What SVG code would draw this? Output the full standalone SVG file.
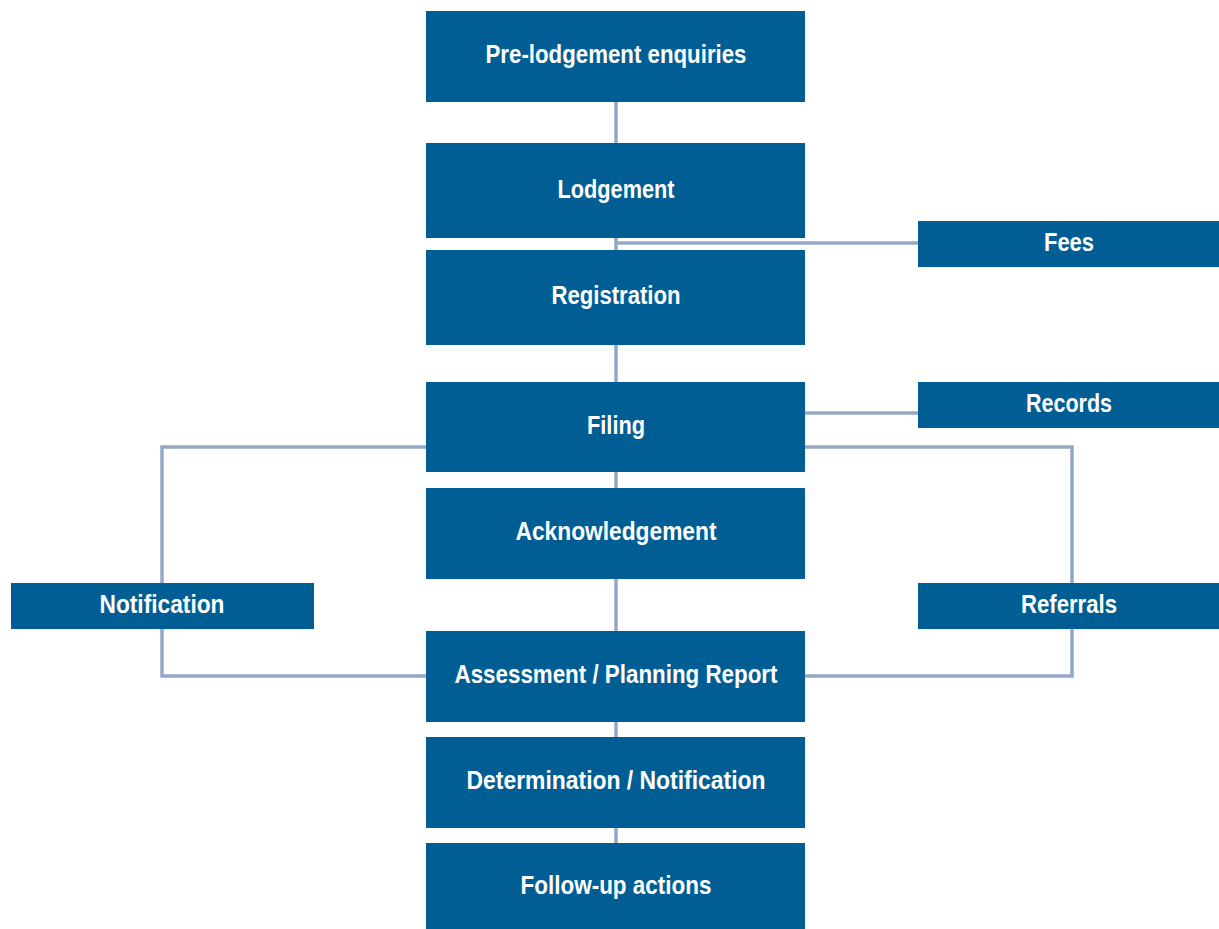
<svg xmlns="http://www.w3.org/2000/svg" width="1219" height="929" viewBox="0 0 1219 929">
<style>
.box{fill:#005E94}
.lbl{fill:#ffffff;font-family:"Liberation Sans Narrow","Liberation Sans",Arial,sans-serif;font-weight:bold;font-size:25px;text-anchor:middle}
.con{fill:none;stroke:#94A8C8;stroke-width:3.5}
</style>
<rect width="1219" height="929" fill="#ffffff"/>
<g id="connectors">
<line class="con" x1="616" y1="102" x2="616" y2="843"/>
<line class="con" x1="616" y1="243" x2="918" y2="243"/>
<line class="con" x1="805" y1="413" x2="918" y2="413"/>
<polyline class="con" points="805,447 1072,447 1072,676 805,676"/>
<polyline class="con" points="426,447 162,447 162,676 426,676"/>
</g>
<g id="n-prelodgement"><rect class="box" x="426" y="11" width="379" height="91"/><text class="lbl" x="616" y="63" textLength="261" lengthAdjust="spacingAndGlyphs">Pre-lodgement enquiries</text></g>
<g id="n-lodgement"><rect class="box" x="426" y="143" width="379" height="95"/><text class="lbl" x="616" y="198" textLength="117" lengthAdjust="spacingAndGlyphs">Lodgement</text></g>
<g id="n-registration"><rect class="box" x="426" y="250" width="379" height="95"/><text class="lbl" x="616" y="304" textLength="129" lengthAdjust="spacingAndGlyphs">Registration</text></g>
<g id="n-filing"><rect class="box" x="426" y="382" width="379" height="90"/><text class="lbl" x="616" y="434" textLength="58" lengthAdjust="spacingAndGlyphs">Filing</text></g>
<g id="n-acknowledgement"><rect class="box" x="426" y="488" width="379" height="91"/><text class="lbl" x="616" y="540" textLength="201" lengthAdjust="spacingAndGlyphs">Acknowledgement</text></g>
<g id="n-assessment"><rect class="box" x="426" y="631" width="379" height="91"/><text class="lbl" x="616" y="683" textLength="323" lengthAdjust="spacingAndGlyphs">Assessment / Planning Report</text></g>
<g id="n-determination"><rect class="box" x="426" y="737" width="379" height="91"/><text class="lbl" x="616" y="789" textLength="299" lengthAdjust="spacingAndGlyphs">Determination / Notification</text></g>
<g id="n-followup"><rect class="box" x="426" y="843" width="379" height="88"/><text class="lbl" x="616" y="894" textLength="191" lengthAdjust="spacingAndGlyphs">Follow-up actions</text></g>
<g id="n-fees"><rect class="box" x="918" y="221" width="301" height="46"/><text class="lbl" x="1069" y="251" textLength="50" lengthAdjust="spacingAndGlyphs">Fees</text></g>
<g id="n-records"><rect class="box" x="918" y="382" width="301" height="46"/><text class="lbl" x="1069" y="412" textLength="86" lengthAdjust="spacingAndGlyphs">Records</text></g>
<g id="n-referrals"><rect class="box" x="918" y="583" width="301" height="46"/><text class="lbl" x="1069" y="613" textLength="96" lengthAdjust="spacingAndGlyphs">Referrals</text></g>
<g id="n-notification"><rect class="box" x="11" y="583" width="303" height="46"/><text class="lbl" x="162" y="613" textLength="125" lengthAdjust="spacingAndGlyphs">Notification</text></g>
</svg>
